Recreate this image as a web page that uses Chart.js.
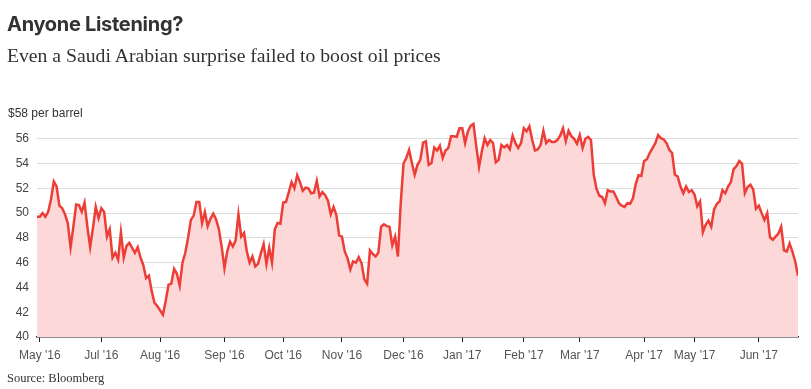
<!DOCTYPE html>
<html>
<head>
<meta charset="utf-8">
<title>Anyone Listening?</title>
<script src="https://cdn.jsdelivr.net/npm/chart.js@4.4.1/dist/chart.umd.min.js"></script>
<style>
  body { margin: 0; background: #fff; }
  #wrap { position: relative; width: 811px; height: 389px; overflow: hidden; }
  #title { position: absolute; left: 7px; top: 12px; font: 700 20px Inter, "Liberation Sans", sans-serif; color: #333; line-height: 24px; letter-spacing: -0.3px; }
  #subtitle { position: absolute; left: 7px; top: 44px; font: 19.7px "Liberation Serif", serif; color: #333; line-height: 22px; }
  #source { position: absolute; left: 7px; top: 370px; font: 12.5px "Liberation Serif", serif; color: #333; line-height: 16px; }
  canvas { position: absolute; left: 0; top: 0; }
</style>
</head>
<body>
<div id="wrap">
  <canvas id="oilChart" width="811" height="389"></canvas>
  <div id="title">Anyone Listening?</div>
  <div id="subtitle">Even a Saudi Arabian surprise failed to boost oil prices</div>
  <div id="source">Source: Bloomberg</div>
</div>
<script>
// 일별 유가 (trading days, May '16 ~ Jun '17), 그림에서 읽은 값
const prices = [
  49.7, 49.7, 50.0, 49.7, 50.1, 51.1, 52.55, 52.15, 50.6, 50.4,
  49.9, 49.2, 47.25, 48.9, 50.7, 50.65, 50.1, 50.85, 48.9, 47.25,
  48.8, 50.5, 49.6, 50.4, 50.1, 48.1, 48.7, 46.4, 46.8, 46.25,
  48.45, 46.4, 47.35, 47.6, 47.2, 46.8, 47.25, 46.4, 45.8, 44.75,
  44.95, 43.7, 42.75, 42.5, 42.15, 41.8, 42.9, 44.2, 44.3, 45.5,
  45.1, 44.15, 46.0, 46.8, 48.0, 49.45, 49.8, 50.9, 50.9, 49.2,
  50.1, 48.95, 49.55, 49.95, 49.5, 48.7, 47.3, 45.55, 46.9, 47.7,
  47.3, 47.8, 49.9, 48.1, 48.4, 46.9, 46.0, 46.5, 45.7, 45.9,
  46.75, 47.5, 45.9, 47.2, 46.0, 48.7, 49.2, 49.15, 50.85, 50.9,
  51.7, 52.5, 52.0, 53.05, 52.5, 51.8, 52.05, 52.0, 51.6, 51.65,
  52.6, 51.35, 51.7, 51.45, 51.0, 49.9, 50.5, 49.85, 48.2, 48.1,
  46.9, 46.35, 45.45, 46.1, 46.0, 46.45, 45.95, 44.65, 44.3, 47.0,
  46.7, 46.5, 46.8, 48.9, 49.1, 48.95, 48.9, 47.4, 48.1, 46.5,
  50.8, 54.0, 54.45, 55.1, 54.05, 53.1, 53.9, 54.3, 55.7, 55.8,
  53.9, 54.05, 55.3, 55.05, 55.45, 54.45, 55.05, 55.25, 56.2, 56.2,
  56.15, 56.85, 56.85, 55.65, 56.6, 57.05, 57.2, 55.4, 53.75, 55.0,
  56.05, 55.5, 55.9, 55.65, 54.1, 54.3, 55.5, 55.3, 55.5, 55.15,
  56.25, 55.65, 55.25, 55.65, 56.85, 56.6, 57.0, 55.9, 55.05, 55.15,
  55.5, 56.65, 55.65, 55.9, 55.75, 55.75, 55.9, 56.25, 56.85, 55.8,
  56.65, 56.2, 56.0, 55.6, 56.3, 55.25, 56.0, 56.15, 55.9, 53.1,
  51.95, 51.4, 51.3, 50.8, 51.85, 51.75, 51.75, 51.3, 50.8, 50.6,
  50.5, 50.8, 50.75, 51.2, 52.35, 53.05, 53.0, 54.2, 54.35, 54.85,
  55.25, 55.65, 56.3, 56.05, 55.95, 55.65, 55.1, 54.85, 53.1, 52.95,
  52.15, 51.6, 52.15, 51.7, 51.85, 51.5, 50.55, 50.95, 48.45, 49.05,
  49.4, 48.9, 50.3, 50.75, 50.95, 51.85, 51.6, 52.15, 52.5, 53.55,
  53.8, 54.2, 54.0, 51.6, 52.1, 52.3, 51.9, 50.35, 50.6, 50.0,
  49.45, 50.0, 48.05, 47.85, 48.1, 48.35, 48.9, 47.0, 46.9, 47.55,
  46.9, 46.1, 44.95
];

// x축 눈금 (거래일 인덱스) 과 라벨
const tickIdx = [1, 23, 44, 67, 88, 109, 131, 152, 174, 194, 217, 235, 258];
const tickLabels = ["May '16", "Jul '16", "Aug '16", "Sep '16", "Oct '16", "Nov '16", "Dec '16",
                    "Jan '17", "Feb '17", "Mar '17", "Apr '17", "May '17", "Jun '17"];

// y축 범위
const yMin = 40;
const yMax = 58;
const yStep = 2;
const unitLabel = '$58 per barrel';

const axisFont = { family: '"Liberation Sans", Arial, sans-serif', size: 12 };

// 맨 위 눈금 자리에 단위 라벨 그리기
const unitLabelPlugin = {
    id: 'unitLabel',
    afterDraw: function(chart) {
        const c = chart.ctx;
        const y = chart.scales.y.getPixelForValue(yMax);
        c.save();
        c.font = '12px "Liberation Sans", Arial, sans-serif';
        c.fillStyle = '#333';
        c.textAlign = 'left';
        c.textBaseline = 'middle';
        c.fillText(unitLabel, 8, y);
        c.restore();
    }
};

const ctx = document.getElementById('oilChart').getContext('2d');
new Chart(ctx, {
    type: 'line',
    data: {
        datasets: [{
            data: prices.map((p, i) => ({ x: i, y: p })),
            borderColor: 'rgb(236, 62, 54)',
            borderWidth: 2.5,
            backgroundColor: 'rgb(252, 216, 216)',
            fill: 'start',
            pointRadius: 0,
            tension: 0
        }]
    },
    options: {
        responsive: false,
        animation: false,
        layout: { padding: { top: 114, right: 13, bottom: 22, left: 0 } },
        plugins: {
            legend: { display: false },
            tooltip: { enabled: false }
        },
        scales: {
            x: {
                type: 'linear',
                min: 0,
                max: prices.length - 1,
                afterBuildTicks: function(scale) {
                    scale.ticks = tickIdx.map(v => ({ value: v }));
                },
                afterFit: function(scale) { scale.height = 30; },
                grid: { drawOnChartArea: false, drawTicks: true, tickLength: 5, color: '#222', lineWidth: 1 },
                border: { color: '#222', width: 1.5 },
                ticks: {
                    autoSkip: false,
                    maxRotation: 0,
                    padding: 6,
                    color: '#555',
                    font: axisFont,
                    callback: function(v) { return tickLabels[tickIdx.indexOf(v)]; }
                }
            },
            y: {
                min: yMin,
                max: yMax,
                afterFit: function(scale) { scale.width = 37; },
                border: { display: false },
                grid: {
                    drawTicks: false,
                    color: c => (c.tick.value === yMin || c.tick.value === yMax) ? 'rgba(0,0,0,0)' : '#dcdcdc'
                },
                ticks: {
                    stepSize: yStep,
                    padding: 8,
                    color: '#444',
                    font: axisFont,
                    callback: v => v === yMax ? '' : v
                }
            }
        }
    },
    plugins: [unitLabelPlugin]
});
</script>
</body>
</html>
